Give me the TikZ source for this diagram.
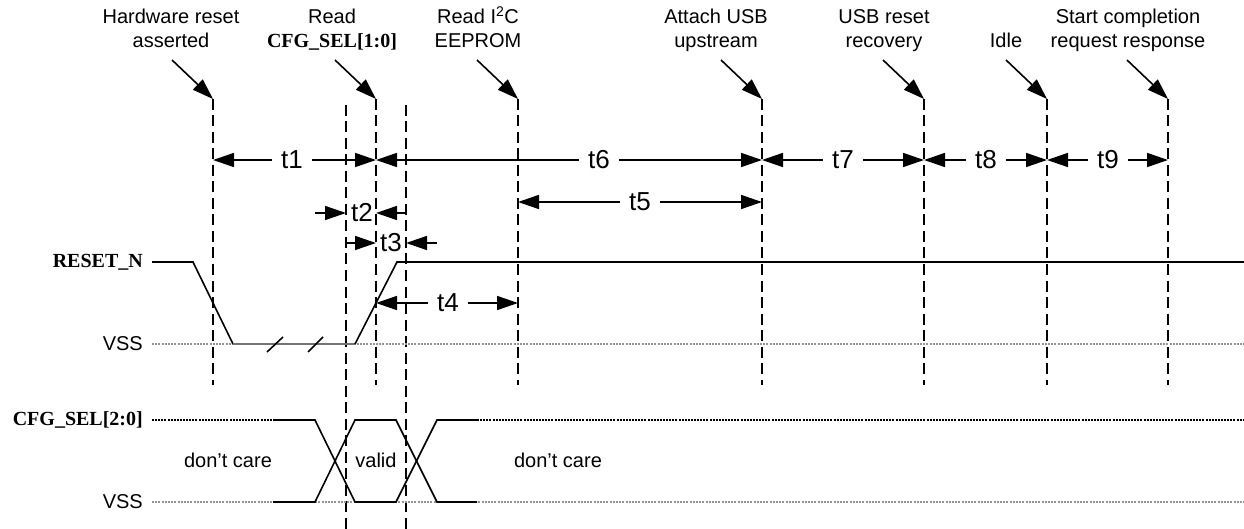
\documentclass[tikz,border=0pt]{standalone}
\usepackage{fontspec}
\setmainfont{Liberation Sans}
\newfontfamily\timesfont{Liberation Serif}
\usetikzlibrary{arrows.meta}
\tikzset{
  vline/.style={line width=2.4pt, dash pattern=on 11pt off 5.5pt},
  sig/.style={line width=1.6pt},
  vssline/.style={line width=2pt, black!42, dash pattern=on 2pt off 1.2pt},
  dcline/.style={line width=2.2pt, dash pattern=on 2pt off 1.1pt},
  dim/.style={line width=1.6pt, -{Triangle[length=21pt,width=14pt]}},
  lbl/.style={font=\fontsize{20}{24}\selectfont, align=center, anchor=base, inner sep=0pt},
  tlab/.style={font=\fontsize{26}{30}\selectfont, inner xsep=9pt, inner ysep=0pt},
  siglab/.style={font=\fontsize{20}{24}\selectfont, anchor=east, inner sep=0pt},
}
\begin{document}
\begin{tikzpicture}[x=1pt,y=-1pt]
\useasboundingbox (0,0) rectangle (1244,529);

% vertical marker lines
\coordinate (Atop) at (213,99);  \coordinate (Abot) at (213,385);
\coordinate (Btop) at (346,105); \coordinate (Bbot) at (346,529);
\coordinate (Ctop) at (376,99);  \coordinate (Cbot) at (376,385);
\coordinate (Dtop) at (406,105); \coordinate (Dbot) at (406,529);
\coordinate (Etop) at (518,99);  \coordinate (Ebot) at (518,385);
\coordinate (Ftop) at (762,99);  \coordinate (Fbot) at (762,385);
\coordinate (Gtop) at (924,99);  \coordinate (Gbot) at (924,385);
\coordinate (Htop) at (1047,99); \coordinate (Hbot) at (1047,385);
\coordinate (Itop) at (1168,99); \coordinate (Ibot) at (1168,385);
\foreach \v in {A,B,C,D,E,F,G,H,I} \draw[vline] (\v top) -- (\v bot);

% event labels (base = baseline of last line)
\node[lbl] (lA) at (171,48) {Hardware reset\\asserted};
\node[lbl] (lC) at (332,48) {Read\\{\timesfont\bfseries CFG\_SEL[1:0]}};
\node[lbl] (lE) at (478,48) {Read I\textsuperscript{2}C\\EEPROM};
\node[lbl] (lF) at (716,48) {Attach USB\\upstream};
\node[lbl] (lG) at (884,48) {USB reset\\recovery};
\node[lbl] (lH) at (1006,48) {Idle};
\node[lbl] (lI) at (1128,48) {Start completion\\request response};
\foreach \v in {A,C,E,F,G,H,I} {
  \coordinate (s\v) at ([shift={(-41,-39)}]\v top);
  \draw[dim] (s\v) -- (\v top);
}

% timing row 1
\node[tlab] (t1) at (292,160) {t1};
\draw[dim] (t1.west) -- (Atop |- t1);
\draw[dim] (t1.east) -- (Ctop |- t1);
\node[tlab] (t6) at (599,160) {t6};
\draw[dim] (t6.west) -- (Ctop |- t6);
\draw[dim] (t6.east) -- (Ftop |- t6);
\node[tlab] (t7) at (843,160) {t7};
\draw[dim] (t7.west) -- (Ftop |- t7);
\draw[dim] (t7.east) -- (Gtop |- t7);
\node[tlab] (t8) at (986,160) {t8};
\draw[dim] (t8.west) -- (Gtop |- t8);
\draw[dim] (t8.east) -- (Htop |- t8);
\node[tlab] (t9) at (1108,160) {t9};
\draw[dim] (t9.west) -- (Htop |- t9);
\draw[dim] (t9.east) -- (Itop |- t9);

% t5
\node[tlab] (t5) at (640,202) {t5};
\draw[dim] (t5.west) -- (Etop |- t5);
\draw[dim] (t5.east) -- (Ftop |- t5);

% t2
\node[tlab, inner xsep=0pt] (t2) at (362,213) {t2};
\coordinate (t2s) at (315,213);
\draw[dim] (t2s) -- (Btop |- t2);
\draw[dim] (Dtop |- t2) -- (Ctop |- t2);

% t3
\node[tlab, inner xsep=0pt] (t3) at (391,243) {t3};
\coordinate (t3s) at (437,243);
\draw[dim] (Btop |- t3) -- (Ctop |- t3);
\draw[dim] (t3s) -- (Dtop |- t3);

% t4
\node[tlab] (t4) at (448,303) {t4};
\draw[dim] (t4.west) -- (Ctop |- t4);
\draw[dim] (t4.east) -- (Etop |- t4);

% RESET_N waveform
\node[siglab] (rn) at (143,262) {\timesfont\bfseries RESET\_N};
\node[siglab] (vss1) at (143,344) {VSS};
\draw[vssline] (152,344) -- (1244,344);
\draw[sig] (152,262) -- (193,262) -- (233,344);
\draw[sig, black!55, line width=2pt] (233,344) -- (355,344);
\draw[sig] (355,344) -- (397,262) -- (1244,262);
\draw[sig] (267,352) -- (283,337);
\draw[sig] (308,352) -- (323,337);

% CFG_SEL waveform
\node[siglab] (cfg) at (143,420) {\timesfont\bfseries CFG\_SEL[2:0]};
\node[siglab] (vss2) at (143,502) {VSS};
\draw[vssline] (152,502) -- (1244,502);
\draw[dcline] (152,420) -- (273,420);
\draw[dcline] (477,420) -- (1244,420);
\draw[sig] (273,420) -- (315,420) -- (355,502) -- (396,502) -- (437,420) -- (477,420);
\draw[sig] (273,502) -- (315,502) -- (355,420) -- (396,420) -- (437,502) -- (477,502);
\node[font=\fontsize{20}{24}\selectfont] (dc1) at (228,460) {don’t care};
\node[font=\fontsize{20}{24}\selectfont] (val) at (376,460) {valid};
\node[font=\fontsize{20}{24}\selectfont] (dc2) at (558,460) {don’t care};
\end{tikzpicture}
\end{document}
